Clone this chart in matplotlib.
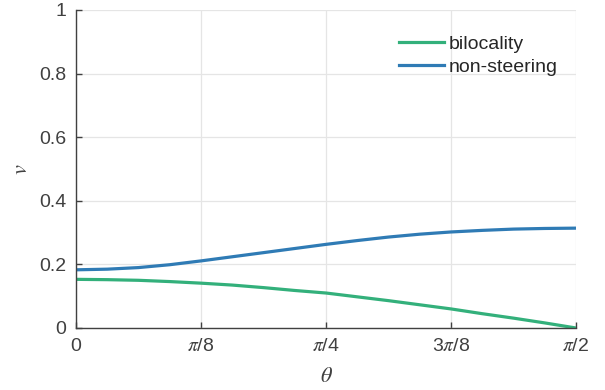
import numpy as np
import matplotlib
matplotlib.use("Agg")
import matplotlib.pyplot as plt

# Sample angles: theta = k*pi/32, k = 0..16
theta_steps = list(range(17))

bilocality = [0.153, 0.152, 0.150, 0.146, 0.141, 0.135, 0.127, 0.118, 0.110,
              0.098, 0.086, 0.073, 0.060, 0.045, 0.031, 0.016, 0.000]
non_steering = [0.183, 0.185, 0.190, 0.199, 0.211, 0.224, 0.237, 0.250, 0.263,
                0.275, 0.286, 0.295, 0.302, 0.307, 0.311, 0.313, 0.314]

xtick_vals = [0, np.pi / 8, np.pi / 4, 3 * np.pi / 8, np.pi / 2]
xtick_labels = ["0", r"$\pi$/8", r"$\pi$/4", r"3$\pi$/8", r"$\pi$/2"]
ytick_vals = [0, 0.2, 0.4, 0.6, 0.8, 1.0]
ytick_labels = ["0", "0.2", "0.4", "0.6", "0.8", "1"]

plt.rcParams["font.family"] = ["Liberation Sans", "DejaVu Sans"]
plt.rcParams["mathtext.fontset"] = "stix"

theta = np.array(theta_steps) * np.pi / 32

fig = plt.figure(figsize=(6.05, 3.9), dpi=100)
ax = fig.add_axes([76 / 605, 62 / 390, 500 / 605, 318 / 390])

green = "#33b07b"
blue = "#2f7bb5"
ax.plot(theta, bilocality, color=green, lw=2.3, label="bilocality")
ax.plot(theta, non_steering, color=blue, lw=2.3, label="non-steering")

ax.set_xlim(0, np.pi / 2)
ax.set_ylim(0, 1)
ax.set_xticks(xtick_vals)
ax.set_xticklabels(xtick_labels)
ax.set_yticks(ytick_vals)
ax.set_yticklabels(ytick_labels)

axis_color = "#404040"
ax.grid(True, color="#e5e5e5", lw=0.9)
ax.set_axisbelow(True)
for s in ["top", "right"]:
    ax.spines[s].set_visible(False)
for s in ["left", "bottom"]:
    ax.spines[s].set_color(axis_color)
    ax.spines[s].set_linewidth(1.0)
ax.tick_params(direction="in", length=4, width=1.0, colors=axis_color,
               labelsize=14, labelcolor=axis_color, pad=7)

ax.set_xlabel(r"$\theta$", fontsize=16, color=axis_color, labelpad=8)
ax.set_ylabel(r"$v$", fontsize=16, color=axis_color, labelpad=5)

leg = ax.legend(loc="upper left", bbox_to_anchor=(0.646, 0.92), frameon=False,
                borderpad=0, borderaxespad=0, fontsize=14, handlelength=2.3,
                handletextpad=0.25, labelspacing=0.25)
for t in leg.get_texts():
    t.set_color("#262626")

fig.savefig("out.png", dpi=100)
